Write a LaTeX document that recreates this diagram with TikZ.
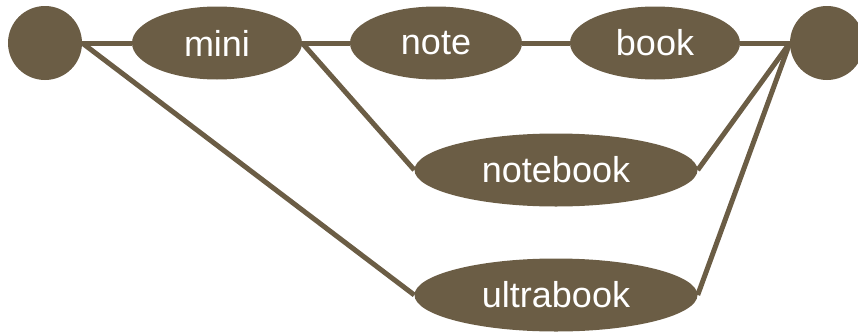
\documentclass[tikz,border=0pt]{standalone}
\usepackage{fontspec}
\setmainfont{Liberation Sans}
\usetikzlibrary{shapes.geometric}
\definecolor{bark}{HTML}{6B5D45}
\tikzset{
  word/.style={
    shape = ellipse,
    fill = bark,
    text = white,
    inner sep = 0pt,
    minimum height = 73pt,
    font = \fontsize{36}{40}\selectfont
  },
  endpt/.style={
    shape = circle,
    fill = bark,
    inner sep = 0pt,
    minimum size = 74pt
  },
  link/.style={
    draw = bark,
    line width = 5pt
  }
}
\begin{document}
\begin{tikzpicture}[x=1pt, y=-1pt]
    \useasboundingbox (0,0) rectangle (858,332);
    \def\ty{43}
    \node[endpt] (L) at (45,\ty) {};
    \node[endpt] (R) at (827,\ty) {};
    \node[word, minimum width=170pt] (mini) at (217,\ty) {mini};
    \node[word, minimum width=172pt] (note) at (436,\ty) {note};
    \node[word, minimum width=170pt] (book) at (655,\ty) {book};
    \node[word, minimum width=283pt] (notebook) at (556,170) {notebook};
    \node[word, minimum width=283pt] (ultrabook) at (556,295) {ultrabook};
    % edges
    \draw[link] (L.east) -- (mini.west);
    \draw[link] (mini.east) -- (note.west);
    \draw[link] (note.east) -- (book.west);
    \draw[link] (book.east) -- (R.west);
    \draw[link] (mini.east) -- (notebook.west);
    \draw[link] (L.east) -- (ultrabook.west);
    \draw[link] (notebook.east) -- (R.west);
    \draw[link] (ultrabook.east) -- (R.west);
\end{tikzpicture}
\end{document}
